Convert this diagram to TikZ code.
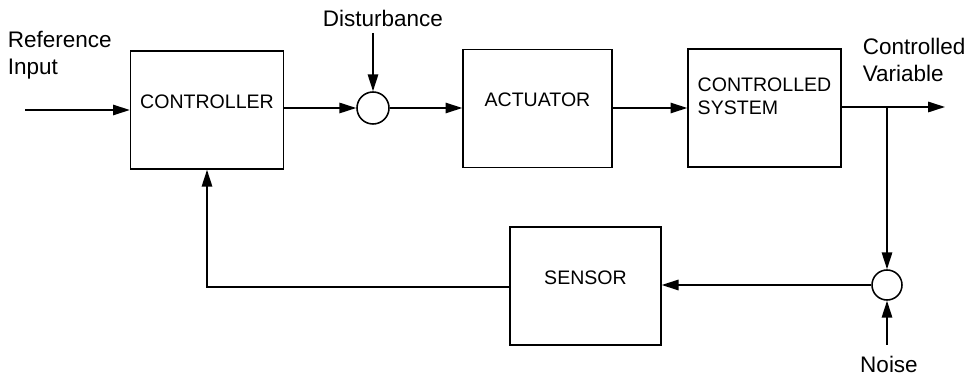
\documentclass[tikz,border=0pt]{standalone}
\usepackage{fontspec}
\setmainfont{Liberation Sans}
\usetikzlibrary{arrows.meta, positioning}

\begin{document}
\begin{tikzpicture}[
          x=0.025cm, y=-0.025cm,
          line width=1.1pt,
          >={Triangle[length=0.42cm, width=0.26cm]},
          blok/.style={draw, minimum width=3.8cm, minimum height=2.95cm,
                       font=\fontsize{13.9}{16.8}\selectfont, align=center,
                       text depth=12pt, inner sep=0pt},
          sumpt/.style={draw, circle, minimum size=0.8cm, inner sep=0pt},
          lbl/.style={font=\fontsize{16}{19.5}\selectfont, inner sep=0pt}
        ]
        \useasboundingbox (0,0) rectangle (968,379);
        % blocks
        \node[blok, minimum width=3.82cm] (ctrl) at (207,110) {CONTROLLER};
        \node[sumpt] (sum1) at (373,108) {};
        \node[blok, minimum width=3.72cm] (act) at (537.5,108.5) {ACTUATOR};
        \node[blok, minimum width=3.82cm, text depth=17pt, align=left] (sys) at (764.5,108) {CONTROLLED\\SYSTEM};
        \node[blok, minimum width=3.77cm] (sens) at (585.5,286) {SENSOR};
        \node[sumpt, minimum size=0.75cm] (sum2) at (887,285) {};
        % labels
        \node[lbl, anchor=west, align=left] (ref) at (7,55) {Reference\\Input};
        \node[lbl] (dist) at (383,18) {Disturbance};
        \node[lbl, anchor=west, align=left] (cvar) at (862,60) {Controlled\\Variable};
        \node[lbl] (noise) at (889,364) {Noise};
        \coordinate (in) at (25,110);
        \coordinate (dtop) at (373,33);
        \coordinate (out) at (945,107);
        \coordinate (ntop) at (887,345);
        % connectors
        \draw[->] (in) -- (ctrl.west |- in);
        \draw[->] (ctrl.east |- sum1) -- (sum1);
        \draw[->] (dtop) -- (sum1);
        \draw[->] (sum1) -- (act.west |- sum1);
        \draw[->] (act.east |- sum1) -- (sys.west |- sum1);
        \draw[->] (sys.east |- out) -- (out);
        \draw[->] (sum2 |- out) -- (sum2);
        \draw[->] (ntop) -- (sum2);
        \draw[->] (sum2) -- (sens.east |- sum2);
        \draw[->] (sens.west |- 0,287) -| (ctrl.south);
      \end{tikzpicture}
\end{document}
